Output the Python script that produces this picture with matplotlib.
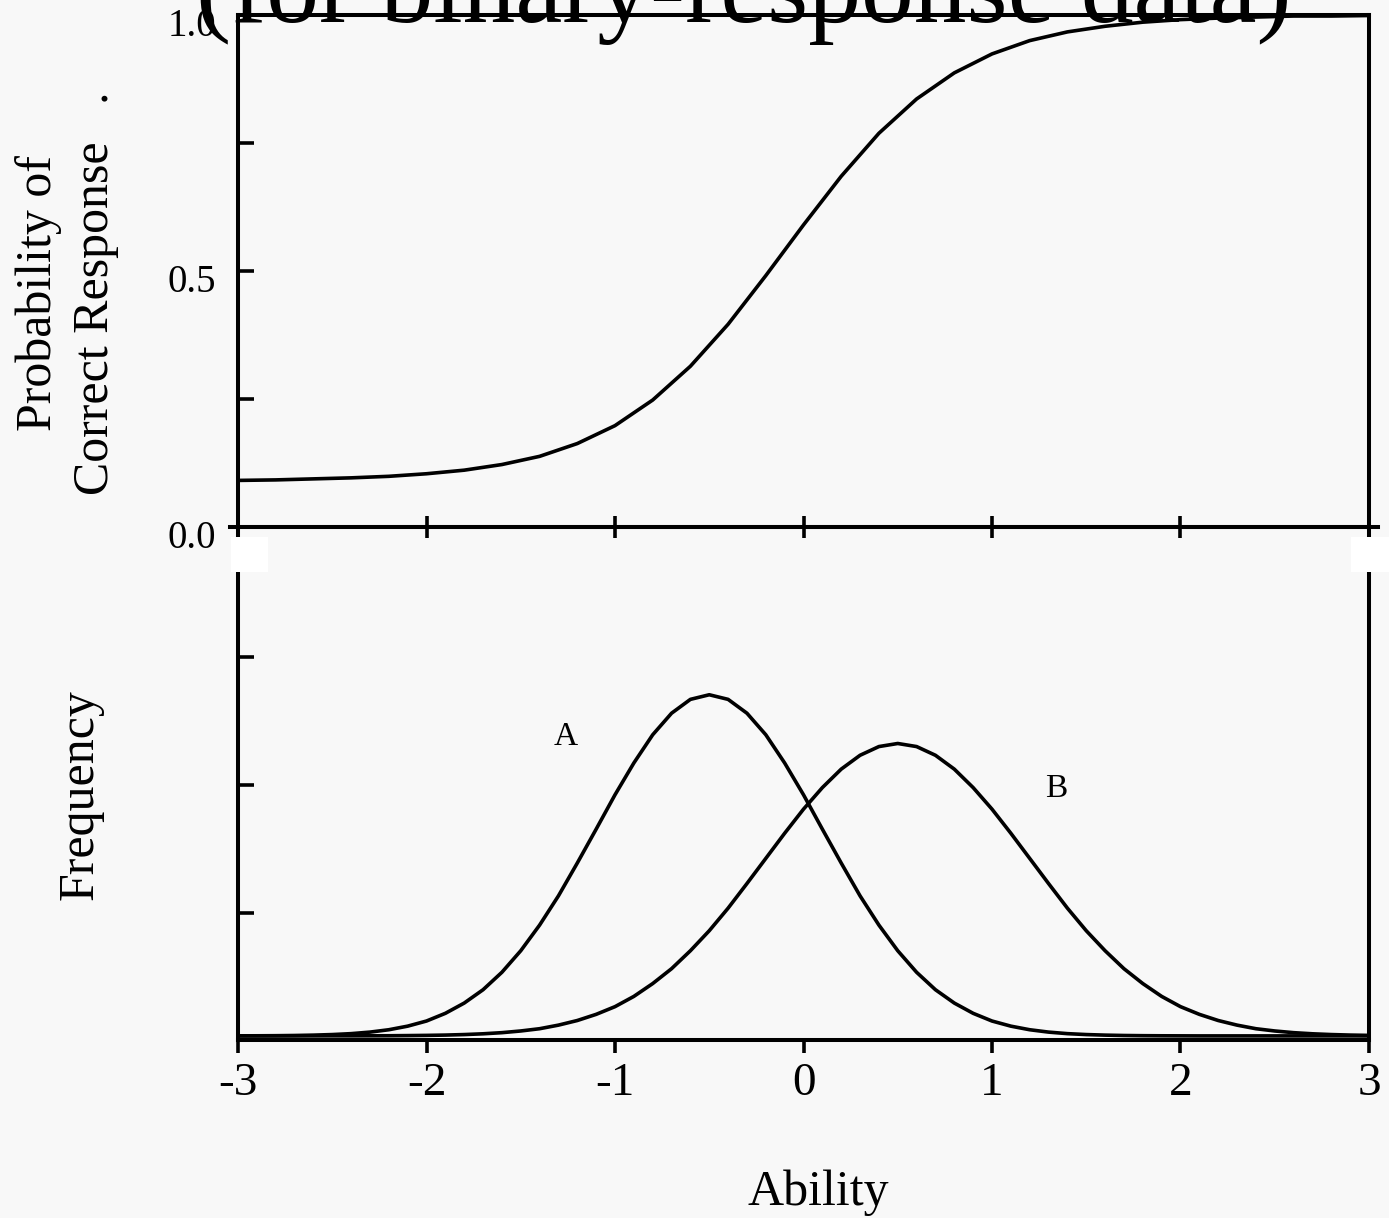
import matplotlib
matplotlib.use("Agg")
import matplotlib.pyplot as plt
import matplotlib.transforms as mtransforms
from matplotlib.lines import Line2D
from matplotlib.patches import Rectangle

plt.rcParams['font.family'] = ['Liberation Serif', 'DejaVu Serif']

# item characteristic curve (step 0.2)
icc_theta = [-3.0, -2.8, -2.6, -2.4, -2.2, -2.0, -1.8, -1.6, -1.4, -1.2, -1.0,
             -0.8, -0.6, -0.4, -0.2, 0.0, 0.2, 0.4, 0.6, 0.8, 1.0,
             1.2, 1.4, 1.6, 1.8, 2.0, 2.2, 2.4, 2.6, 2.8, 3.0]
icc_prob = [0.091, 0.092, 0.094, 0.096, 0.099, 0.104, 0.111, 0.122, 0.138, 0.163, 0.198,
            0.248, 0.314, 0.396, 0.491, 0.590, 0.685, 0.769, 0.836, 0.887, 0.924,
            0.950, 0.967, 0.978, 0.986, 0.991, 0.994, 0.996, 0.998, 0.998, 0.999]

# ability distributions (step 0.1)
dist_theta = [round(-3.0 + 0.1 * i, 1) for i in range(61)]
freq_a = [0.0001, 0.0002, 0.0004, 0.0008, 0.0015, 0.0026, 0.0044, 0.0074, 0.012, 0.019,
          0.029, 0.044, 0.064, 0.090, 0.124, 0.166, 0.216, 0.273, 0.337, 0.403,
          0.470, 0.532, 0.587, 0.629, 0.656, 0.665, 0.656, 0.629, 0.587, 0.532,
          0.470, 0.403, 0.337, 0.273, 0.216, 0.166, 0.124, 0.090, 0.064, 0.044,
          0.029, 0.019, 0.012, 0.0074, 0.0044, 0.0026, 0.0015, 0.0008, 0.0004, 0.0002,
          0.0001, 0, 0, 0, 0, 0, 0, 0, 0, 0, 0]
freq_b = [0, 0, 0, 0, 0, 0.0001, 0.0001, 0.0002, 0.0003, 0.0006,
          0.0010, 0.0016, 0.0026, 0.0041, 0.0063, 0.0096, 0.014, 0.021, 0.030, 0.042,
          0.057, 0.077, 0.102, 0.131, 0.166, 0.205, 0.249, 0.297, 0.346, 0.395,
          0.442, 0.484, 0.520, 0.547, 0.564, 0.570, 0.564, 0.547, 0.520, 0.484,
          0.442, 0.395, 0.346, 0.297, 0.249, 0.205, 0.166, 0.131, 0.102, 0.077,
          0.057, 0.042, 0.030, 0.021, 0.014, 0.0096, 0.0063, 0.0041, 0.0026, 0.0016,
          0.0010]

x_ticks = [-3, -2, -1, 0, 1, 2, 3]
x_labels = ['-3', '-2', '-1', '0', '1', '2', '3']
p_ticks = [0.0, 0.5, 1.0]
p_labels = ['0.0', '0.5', '1.0']
p_minor = [0.25, 0.75]
f_ticks = [0.240, 0.489, 0.739]

bg = '#f8f8f8'
lw_spine = 2.9
lw_curve = 2.6
tick_len = 11.5

fig = plt.figure(figsize=(13.89, 12.18), dpi=100, facecolor=bg)
ax1 = fig.add_axes([0.17135, 0.56732, 0.81425, 0.42036])
ax2 = fig.add_axes([0.17135, 0.14614, 0.81425, 0.42118])

for ax in (ax1, ax2):
    ax.set_facecolor('none')
    for s in ax.spines.values():
        s.set_linewidth(lw_spine)
    ax.set_xlim(-3, 3)
    ax.set_xticks(x_ticks)

# top panel
ax1.plot(icc_theta, icc_prob, color='black', lw=lw_curve)
ax1.set_ylim(0, 1)
ax1.set_yticks(p_ticks)
ax1.set_yticklabels(p_labels)
ax1.set_yticks(p_minor, minor=True)
ax1.tick_params(axis='x', direction='inout', length=tick_len * 1.4, width=2.6,
                labelbottom=False)
ax1.tick_params(axis='y', which='both', direction='in', length=tick_len, width=2.6,
                labelsize=28, pad=16)
shift = mtransforms.ScaledTranslation(0, -0.07, fig.dpi_scale_trans)
for lab in ax1.get_yticklabels():
    lab.set_transform(lab.get_transform() + shift)
ax1.add_line(Line2D([-0.007, 1.008], [0, 0], transform=ax1.transAxes,
                    color='black', lw=lw_spine, clip_on=False))

# bottom panel
ax2.plot(dist_theta, freq_a, color='black', lw=lw_curve)
ax2.plot(dist_theta, freq_b, color='black', lw=lw_curve)
ax2.set_ylim(-0.008, 0.992)
ax2.spines['top'].set_visible(False)
ax2.set_yticks(f_ticks)
ax2.set_yticklabels([])
ax2.set_xticklabels(x_labels)
ax2.tick_params(axis='x', direction='out', length=9.4, width=2.6, labelsize=34, pad=7)
ax2.tick_params(axis='y', direction='in', length=tick_len, width=2.6)
ax2.text(-1.26, 0.583, 'A', fontsize=24, ha='center', va='center')
ax2.text(1.34, 0.481, 'B', fontsize=24, ha='center', va='center')

# labels
fig.text(67 / 1389, 1 - 293 / 1218, 'Probability of\nCorrect Response   .',
         rotation=90, ha='center', va='center', multialignment='center',
         fontsize=36, linespacing=1.3)
fig.text(80 / 1389, 1 - 795 / 1218, 'Frequency', rotation=90,
         ha='center', va='center', fontsize=36)
fig.text(818 / 1389, 1 - 1193 / 1218, 'Ability', ha='center', va='center', fontsize=36)

# clipped title
fig.text(744 / 1389, 1 - 22 / 1218, '(for binary-response data)', ha='center',
         va='baseline', fontsize=76, zorder=10)

# white gaps between the panels
for x0, w in ((231, 37), (1351, 38)):
    fig.add_artist(Rectangle((x0 / 1389, 1 - 572 / 1218), w / 1389, 35 / 1218,
                             transform=fig.transFigure, facecolor='white',
                             edgecolor='none', zorder=10))

fig.savefig('out.png', dpi=100, facecolor=bg)
